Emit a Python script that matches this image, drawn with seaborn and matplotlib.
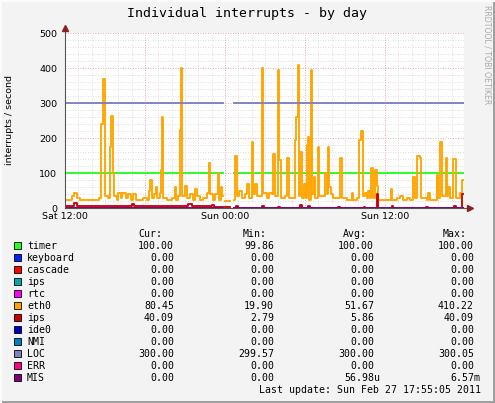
import numpy as np
import pandas as pd
import matplotlib
matplotlib.use('Agg')
import matplotlib.pyplot as plt
import seaborn as sns
from matplotlib.patches import Rectangle

# Serien (Reihenfolge wie in der Legende)
names = ['timer', 'keyboard', 'cascade', 'ips', 'rtc', 'eth0', 'ips',
         'ide0', 'NMI', 'LOC', 'ERR', 'MIS']
colors = ['#22ff22', '#0022ff', '#ff0000', '#00aaaa', '#ff00ff', '#ffa500',
          '#cc0000', '#0000cc', '#0080c0', '#8080c0', '#ff0080', '#800080']
cur = ['100.00', '0.00', '0.00', '0.00', '0.00', '80.45', '40.09',
       '0.00', '0.00', '300.00', '0.00', '0.00']
mins = ['99.86', '0.00', '0.00', '0.00', '0.00', '19.90', '2.79',
        '0.00', '0.00', '299.57', '0.00', '0.00']
avgs = ['100.00', '0.00', '0.00', '0.00', '0.00', '51.67', '5.86',
        '0.00', '0.00', '300.00', '0.00', '56.98u']
maxs = ['100.00', '0.00', '0.00', '0.00', '0.00', '410.22', '40.09',
        '0.00', '0.00', '300.05', '0.00', '6.57m']

nan = float('nan')
end_h = 29.92  # Sat 12:00 -> Sun 17:55

x_ticks = [0, 12, 24]
x_labels = ['Sat 12:00', 'Sun 00:00', 'Sun 12:00']

# nahezu konstante Serien, Luecke um Mitternacht
flat_hours = [0.0, 11.85, 12.65]
timer_vals = [100, nan, 100]
loc_vals = [300, nan, 300]
zero_vals = [0, nan, 0]

eth0_hours = [0.0, 0.5, 0.68, 0.88, 1.1, 2.55, 2.72, 2.85, 3.0, 3.2, 3.36,
              3.48, 3.6, 3.7, 3.88, 4.0, 4.18, 4.3, 4.58, 4.75, 4.92, 5.12,
              5.32, 5.88, 6.12, 6.3, 6.4, 6.52, 6.7, 6.82, 6.92, 7.12, 7.2,
              7.28, 7.38, 7.62, 8.0, 8.22, 8.32, 8.5, 8.6, 8.68, 8.78, 9.02,
              9.12, 9.38, 9.58, 9.78, 9.88, 10.12, 10.38, 10.62, 10.78,
              10.88, 11.08, 11.22, 11.45, 11.55, 11.7, 11.78, 11.85, 12.02,
              12.35, 12.7, 12.78, 12.9, 13.08, 13.25, 13.5, 13.68, 13.8,
              14.02, 14.12, 14.28, 14.38, 14.78, 14.88, 15.12, 15.32, 15.52,
              15.6, 15.78, 15.95, 16.05, 16.18, 16.5, 16.68, 16.8, 17.08,
              17.25, 17.35, 17.45, 17.55, 17.65, 17.78, 17.92, 18.05, 18.12,
              18.22, 18.32, 18.45, 18.55, 18.68, 18.78, 18.98, 19.08, 19.5,
              19.62, 19.72, 19.82, 19.92, 20.12, 20.38, 20.65, 20.78, 21.12,
              21.5, 21.62, 21.88, 22.08, 22.22, 22.35, 22.5, 22.62, 22.75,
              22.88, 22.97, 23.1, 23.25, 23.38, 23.5, 24.12, 24.45, 24.55,
              24.88, 25.12, 25.38, 25.62, 25.88, 26.08, 26.28, 26.4, 26.6,
              26.72, 27.12, 27.25, 27.38, 27.88, 28.0, 28.15, 28.3, 28.55,
              28.68, 28.75, 28.88, 29.08, 29.3, 29.62, 29.78]
eth0_vals = [25, 35, 45, 30, 25, 30, 240, 370, 35, 30, 175,
             265, 100, 35, 25, 45, 30, 45, 30, 40, 25, 40,
             25, 30, 25, 50, 80, 30, 40, 60, 30, 45, 110,
             260, 30, 25, 30, 60, 25, 35, 225, 400, 35, 65,
             30, 40, 25, 55, 35, 25, 30, 45, 130,
             40, 25, 40, 100, 25, 60, 35, nan, 20,
             nan, 25, 150, 35, 50, 30, 40, 70, 30,
             190, 40, 70, 35, 400, 45, 30, 45, 40,
             155, 35, 395, 138, 30, 35, 145, 30, 30,
             195, 260, 410, 35, 160, 30, 70, 30, 180,
             205, 25, 395, 40, 90, 30, 175, 35, 100,
             40, 175, 60, 40, 30, 30, 145, 30, 25,
             45, 25, 30, 195, 220, 35, 45, 30, 50,
             30, 115, 30, 110, 65, 25, 25, 55, 25,
             30, 35, 25, 30, 25, 90, 30, 150, 145,
             30, 25, 45, 25, 95, 30, 190, 35, 145,
             35, 60, 30, 140, 30, 45, 80]

ips_hours = [0.0, 0.65, 0.9, 2.6, 4.5, 5.0, 5.2, 9.2, 9.5, 10.6, 11.0, 11.2,
             11.5, 11.85, 12.02, 12.35, 12.7, 12.8, 12.95, 14.8, 14.9, 16.0,
             16.1, 17.6, 17.75, 18.2, 18.35, 20.5, 20.6, 22.4, 22.5, 23.4,
             23.5, 24.5, 24.6, 27.1, 27.2, 29.2, 29.3, 29.75]
ips_vals = [6, 14, 8, 7, 8, 11, 7, 11, 8, 7, 9, 4,
            3, nan, 3, nan, 2, 8, 2, 6, 2, 5,
            2, 10, 2, 6, 2, 4, 2, 4, 2, 40,
            2, 6, 2, 4, 2, 6, 2, 40]

series_data = [(flat_hours, timer_vals)] + [(flat_hours, zero_vals)] * 4 + \
    [(eth0_hours, eth0_vals), (ips_hours, ips_vals)] + \
    [(flat_hours, zero_vals)] * 2 + [(flat_hours, loc_vals)] + \
    [(flat_hours, zero_vals)] * 2


def segments(hours, vals):
    hours = list(hours) + [end_h]
    segs, part = [], []
    for i, v in enumerate(vals):
        if np.isnan(v):
            if part:
                segs.append(part)
                part = []
            continue
        part.append((hours[i], v))
        if i + 1 == len(vals) or np.isnan(vals[i + 1]):
            part.append((hours[i + 1], v))
    if part:
        segs.append(part)
    return segs


W, H = 495, 403
bg = '#f3f3f3'
fig = plt.figure(figsize=(W / 100, H / 100), dpi=100, facecolor=bg)
ax = fig.add_axes([65 / W, 1 - 208.3 / H, 399 / W, 175 / H])
ax.set_facecolor('white')

# Gitter
for y in range(20, 501, 20):
    c = '#e08c8c' if y % 100 == 0 else '#d2d2d2'
    ax.axhline(y, color=c, ls=(0, (1, 2)), lw=0.6, zorder=0.5)
for h in range(1, 30):
    c = '#e08c8c' if h % 6 == 0 else '#d2d2d2'
    ax.axvline(h, color=c, ls=(0, (1, 2)), lw=0.6, zorder=0.5)

for (hours, vals), col in zip(series_data, colors):
    for seg in segments(hours, vals):
        df = pd.DataFrame(seg, columns=['h', 'v'])
        sns.lineplot(data=df, x='h', y='v', color=col, lw=1.35, ax=ax,
                     estimator=None, sort=False, drawstyle='steps-post',
                     zorder=2)

ax.set_xlim(0, end_h)
ax.set_ylim(0, 500)
ax.set_xlabel('')
ax.set_ylabel('')
ax.set_yticks(range(0, 501, 100))
ax.set_xticks(x_ticks)
ax.set_xticklabels(x_labels)
ax.tick_params(axis='both', length=0, labelsize=6.8, colors='black')
ax.tick_params(axis='y', pad=5.5)
ax.tick_params(axis='x', pad=3)
for s in ['top', 'right']:
    ax.spines[s].set_visible(False)
ax.spines['left'].set_color('#555555')
ax.spines['bottom'].set_color('#555555')
ax.spines['left'].set_linewidth(0.8)
ax.spines['bottom'].set_linewidth(0.8)

# Pfeile an den Achsen
ax.plot([0, 0], [1, 1.02], color='#555555', lw=0.8, transform=ax.transAxes,
        clip_on=False)
ax.plot([1, 1.01], [0, 0], color='#555555', lw=0.8, transform=ax.transAxes,
        clip_on=False)
ax.plot([0], [1.03], marker='^', color='#8b2020', ms=4,
        transform=ax.transAxes, clip_on=False)
ax.plot([1.014], [0], marker='>', color='#8b2020', ms=4,
        transform=ax.transAxes, clip_on=False)

mono = 'DejaVu Sans Mono'


def fx(x):
    return x / W


def fy(y):
    return 1 - y / H


fig.text(fx(247), fy(14), 'Individual interrupts - by day', family=mono,
         fontsize=9.5, ha='center', va='center')
fig.text(fx(10), fy(120), 'interrupts / second', rotation=90, fontsize=6.8,
         ha='center', va='center')
fig.text(fx(487), fy(5), 'RRDTOOL / TOBI OETIKER', rotation=270,
         fontsize=5.6, color='#aaaaaa', ha='center', va='top')

# Legende
for hx, lab in zip([162, 267, 367, 467], ['Cur:', 'Min:', 'Avg:', 'Max:']):
    fig.text(fx(hx), fy(234), lab, family=mono, fontsize=7.1, ha='right',
             va='center')

col_x = [174, 274, 374, 474]
for i, name in enumerate(names):
    y = 245.7 + 12 * i
    fig.add_artist(Rectangle((fx(13.5), fy(y + 3.5)), 7 / W, 7 / H,
                             transform=fig.transFigure, facecolor=colors[i],
                             edgecolor='black', lw=0.6))
    fig.text(fx(27), fy(y), name, family=mono, fontsize=7.1, ha='left',
             va='center')
    for cx, vals in zip(col_x, [cur, mins, avgs, maxs]):
        v = vals[i]
        suffix = ''
        if v[-1].isalpha():
            v, suffix = v[:-1], v[-1]
        fig.text(fx(cx), fy(y), v, family=mono, fontsize=7.1, ha='right',
                 va='center')
        if suffix:
            fig.text(fx(cx), fy(y), suffix, family=mono, fontsize=7.1,
                     ha='left', va='center')

fig.text(fx(481), fy(389.7), 'Last update: Sun Feb 27 17:55:05 2011',
         family=mono, fontsize=7.1, ha='right', va='center')

# Rahmen
fig.add_artist(Rectangle((fx(492.5), 0), 2.5 / W, 1, transform=fig.transFigure,
                         facecolor='#a0a0a0', edgecolor='none'))
fig.add_artist(Rectangle((0, 0), 1, 2.5 / H, transform=fig.transFigure,
                         facecolor='#a0a0a0', edgecolor='none'))
fig.add_artist(Rectangle((0, fy(1.5)), 1, 1.5 / H, transform=fig.transFigure,
                         facecolor='#fcfcfc', edgecolor='none'))
fig.add_artist(Rectangle((0, 0), 1.5 / W, 1, transform=fig.transFigure,
                         facecolor='#fcfcfc', edgecolor='none'))

fig.savefig('out.png', dpi=100, facecolor=bg)
